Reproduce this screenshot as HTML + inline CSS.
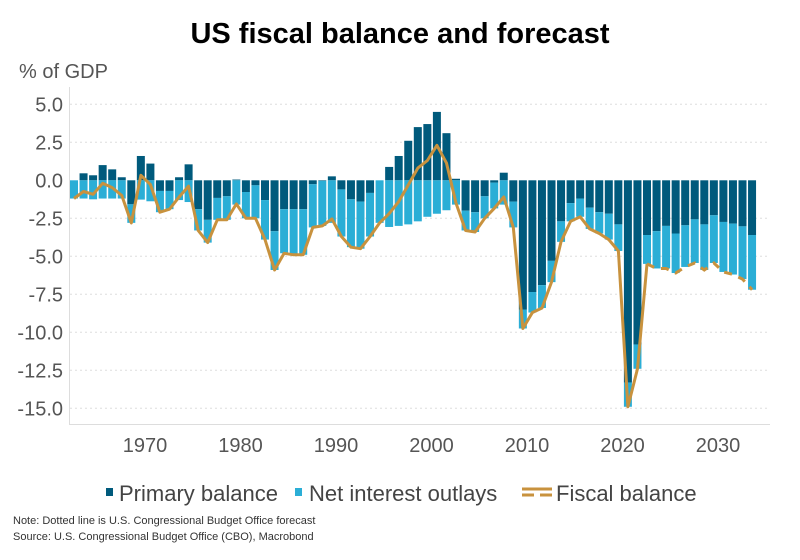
<!DOCTYPE html>
<html><head><meta charset="utf-8"><style>
html,body{margin:0;padding:0;background:#fff;}
body{width:800px;height:555px;overflow:hidden;font-family:"Liberation Sans",sans-serif;}
</style></head><body>
<svg id="c" width="800" height="555" xmlns="http://www.w3.org/2000/svg" font-family="Liberation Sans, sans-serif">
<text x="400" y="43" text-anchor="middle" font-size="29" font-weight="bold" fill="#000">US fiscal balance and forecast</text>
<text x="19" y="78" font-size="20" fill="#555">% of GDP</text>
<g id="grid"></g>
<g id="bars"></g>
<g id="lines"></g>
<line x1="69.5" y1="87" x2="69.5" y2="424" stroke="#ddd" stroke-width="1"/>
<line x1="69" y1="424.5" x2="770" y2="424.5" stroke="#ddd" stroke-width="1"/>
<g id="xl" font-size="20" fill="#555" text-anchor="middle"></g>
<rect x="106" y="488" width="7" height="8" fill="#005A7C"/>
<text x="119" y="501" font-size="22" fill="#444">Primary balance</text>
<rect x="295" y="488" width="7" height="8" fill="#2BAED6"/>
<text x="309" y="501" font-size="22" fill="#444">Net interest outlays</text>
<line x1="522" y1="489" x2="552" y2="489" stroke="#C8923E" stroke-width="3"/>
<line x1="522" y1="495" x2="552" y2="495" stroke="#C8923E" stroke-width="3" stroke-dasharray="12,6"/>
<text x="556" y="501" font-size="22" fill="#444">Fiscal balance</text>
<text x="13" y="524" font-size="11" fill="#333">Note: Dotted line is U.S. Congressional Budget Office forecast</text>
<text x="13" y="540" font-size="11" fill="#333">Source: U.S. Congressional Budget Office (CBO), Macrobond</text>
</svg>
<script>
var P=[0,.46,.33,1.0,.72,.2,-1.58,1.6,1.1,-.7,-.7,.2,1.05,-1.9,-2.6,-1.16,-1.05,.05,-.77,-.33,-1.3,-3.35,-1.9,-1.9,-1.9,-.26,-.04,.26,-.6,-1.25,-1.4,-.83,0,.88,1.6,2.6,3.5,3.7,4.5,3.1,.1,-2.0,-2.1,-1.05,-.15,.5,-1.4,-8.5,-7.35,-6.9,-5.3,-2.7,-1.5,-1.2,-1.8,-2.1,-2.2,-2.9,-13.3,-10.8,-3.6,-3.35,-3.0,-3.5,-2.96,-2.57,-2.9,-2.3,-2.74,-2.85,-3.03,-3.6];
var N=[1.2,1.2,1.25,1.2,1.2,1.2,1.22,1.27,1.38,1.4,1.2,1.3,1.43,1.4,1.5,1.44,1.55,1.6,1.73,2.17,2.6,2.55,2.9,3.0,3.0,2.84,2.96,2.8,3.1,3.15,3.1,2.87,2.8,3.07,3.0,2.9,2.7,2.4,2.2,1.97,1.6,1.3,1.3,1.45,1.7,1.6,1.7,1.25,1.35,1.5,1.4,1.35,1.2,1.2,1.4,1.4,1.7,1.75,1.6,1.6,1.9,2.45,2.8,2.6,2.74,2.87,3.0,3.14,3.29,3.35,3.47,3.6];
var NS="http://www.w3.org/2000/svg";
function Y(v){return 180.3-v*15.2;}
function el(t,a,p){var e=document.createElementNS(NS,t);for(var k in a)e.setAttribute(k,a[k]);document.getElementById(p).appendChild(e);return e;}
for(var g=5;g>=-15;g-=2.5){var y=Y(g);
 if(g!==0) el("line",{x1:70,y1:y,x2:770,y2:y,stroke:"#ddd","stroke-width":1,"stroke-dasharray":"2,3"},"grid");
 var t=el("text",{x:63,y:y+7,"text-anchor":"end","font-size":20,fill:"#555"},"grid");t.textContent=g.toFixed(1);}
var pts=[];
for(var i=0;i<P.length;i++){var x=70+i*9.55,p=P[i],n=N[i];
 if(p>=0){el("rect",{x:x,y:Y(p),width:8,height:Y(0)-Y(p),fill:"#005A7C"},"bars");
  el("rect",{x:x,y:Y(0),width:8,height:n*15.2,fill:"#2BAED6"},"bars");}
 else{el("rect",{x:x,y:Y(0),width:8,height:-p*15.2,fill:"#005A7C"},"bars");
  el("rect",{x:x,y:Y(p),width:8,height:n*15.2,fill:"#2BAED6"},"bars");}
 pts.push([x+4,Y(p-n)]);}
function path(a,b){var s="";for(var i=a;i<=b;i++)s+=(i==a?"M":"L")+pts[i][0].toFixed(1)+" "+pts[i][1].toFixed(1);return s;}
el("path",{d:path(0,60),fill:"none",stroke:"#C8923E","stroke-width":3,"stroke-linejoin":"round"},"lines");
el("path",{d:path(60,71),fill:"none",stroke:"#C8923E","stroke-width":3,"stroke-dasharray":"8,7"},"lines");
for(var d=1970;d<=2030;d+=10){var t=el("text",{x:145+(d-1970)*9.55,y:452},"xl");t.textContent=d;}
</script>
</body></html>
